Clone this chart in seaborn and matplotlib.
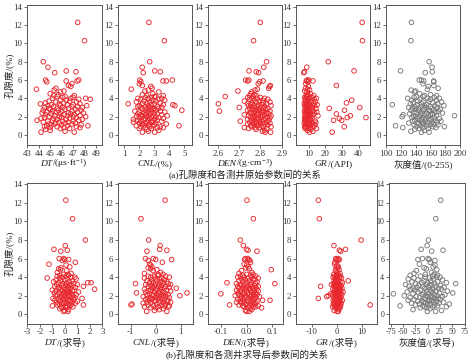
import numpy as np
import pandas as pd
import matplotlib
matplotlib.use("Agg")
import matplotlib.pyplot as plt
from matplotlib.offsetbox import TextArea, HPacker, AnnotationBbox
import seaborn as sns

# ---------------- data ----------------
POROSITY = [12.3, 10.3, 8.0, 7.4, 7.0, 6.9, 6.8, 6.0, 6.0, 5.9,
            5.9, 5.8, 5.6, 5.4, 5.3, 5.1, 5.0, 4.9, 4.8, 4.7,
            4.5, 4.4, 4.3, 4.3, 4.2,
            4.2, 4.1, 4.1, 4.0, 4.0, 4.0, 3.9, 3.9, 3.8, 3.8,
            3.7, 3.7, 3.6, 3.6, 3.5, 3.5, 3.4, 3.4, 3.4, 3.3, 3.3, 3.3, 3.2, 3.2, 3.2,
            3.1, 3.1, 3.1, 3.0, 3.0, 3.0, 2.9, 2.9, 2.9, 2.8,
            2.8, 2.8, 2.7, 2.7, 2.7, 2.6, 2.6, 2.6, 2.5, 2.5, 2.5, 2.4, 2.4, 2.4, 2.3,
            2.3, 2.3, 2.2, 2.2, 2.2, 2.1, 2.1, 2.1, 2.0, 2.0, 2.0, 2.0, 1.9, 1.9, 1.9,
            1.8, 1.8, 1.8, 1.7, 1.7,
            1.7, 1.6, 1.6, 1.6, 1.5, 1.5, 1.5, 1.4, 1.4, 1.4, 1.3, 1.3, 1.3, 1.2, 1.2,
            1.2, 1.1, 1.1, 1.1, 1.0, 1.0, 1.0, 0.9, 0.9, 0.9, 0.8, 0.8, 0.8, 0.7, 0.7,
            0.6, 0.5, 0.4, 0.3, 0.3]

DT = [47.4, 48.0, 44.4, 44.8, 46.4, 47.25, 45.4, 44.6, 47.5, 47.35,
      46.4, 44.7, 46.9, 46.6, 46.8, 45.5, 43.8, 45.35, 46.2, 45.9,
      45.0, 45.7, 45.3, 47.1, 46.3,
      45.6, 47.0, 46.1, 48.1, 46.8, 45.2, 48.5, 47.5, 46.4, 45.9,
      44.9, 46.7, 45.5, 47.3, 44.6, 46.2, 44.15, 45.8, 47.6, 45.1, 46.5, 47.0, 48.2, 44.8, 45.9,
      46.9, 45.3, 47.4, 44.5, 46.1, 47.8, 45.6, 46.6, 44.9, 47.2,
      45.0, 46.3, 47.7, 44.4, 45.7, 46.9, 45.2, 46.0, 47.4, 44.7, 45.5, 46.6, 47.9, 44.3, 45.9,
      46.8, 45.1, 47.1, 44.6, 46.2, 47.6, 45.4, 46.5, 44.9, 45.8, 47.0, 48.1, 44.5, 46.0, 47.3,
      45.3, 46.7, 44.2, 45.6, 47.8,
      46.4, 43.85, 45.2, 47.5, 44.8, 46.1, 47.0, 45.5, 46.6, 44.4, 45.8, 47.2, 46.3, 44.9, 45.4,
      46.9, 47.7, 45.1, 46.0, 48.3, 44.7, 46.5, 45.6, 47.3, 44.5, 46.2, 45.0, 47.6, 45.9, 46.7,
      44.6, 45.0, 46.3, 44.2, 47.1]

CNL = [2.64, 3.67, 2.69, 2.19, 3.03, 3.40, 2.26, 2.03, 4.2, 3.58,
       3.8, 2.1, 2.0, 2.2, 2.77, 2.85, 1.46, 2.6, 2.37, 3.3,
       2.9, 2.2, 3.6, 2.5, 3.1,
       3.0, 2.4, 2.8, 1.9, 3.5, 2.6, 3.3, 2.1, 3.7, 2.9,
       2.3, 3.1, 1.8, 2.7, 3.4, 2.5, 1.25, 3.0, 2.2, 4.24, 2.8, 3.6, 4.38, 2.0, 2.6,
       3.2, 2.4, 1.9, 3.5, 2.7, 2.1, 3.0, 2.5, 3.3, 2.8,
       2.2, 2.9, 4.84, 2.4, 3.1, 1.7, 2.6, 3.4, 2.0, 2.8, 3.7, 2.3, 2.5, 3.0, 1.9,
       2.7, 3.2, 2.1, 3.5, 2.4, 2.9, 2.6, 3.86, 2.2, 3.1, 1.8, 2.5, 3.3, 2.0, 2.8,
       2.4, 3.6, 2.7, 1.6, 3.0,
       2.3, 2.6, 3.2, 1.9, 2.8, 3.5, 2.1, 2.9, 1.6, 2.5, 3.1, 2.4, 2.0, 3.8, 2.7,
       2.2, 3.0, 2.6, 2.3, 4.65, 2.9, 1.8, 3.4, 2.1, 2.7, 3.2, 2.4, 3.6, 2.0, 2.8,
       2.5, 3.3, 2.6, 3.03, 2.2]

DEN = [2.800, 2.768, 2.829, 2.816, 2.747, 2.781, 2.792, 2.731, 2.746, 2.813,
       2.740, 2.797, 2.790, 2.847, 2.843, 2.839, 2.786, 2.775, 2.695, 2.760,
       2.755, 2.770, 2.750, 2.780, 2.765,
       2.635, 2.800, 2.741, 2.820, 2.760, 2.785, 2.835, 2.750, 2.810, 2.770,
       2.795, 2.725, 2.845, 2.780, 2.760, 2.815, 2.740, 2.603, 2.830, 2.790,
       2.755, 2.805, 2.770, 2.850, 2.745, 2.785, 2.820, 2.760, 2.701, 2.800,
       2.775, 2.835, 2.750, 2.815, 2.790,
       2.765, 2.825, 2.740, 2.808, 2.780, 2.608, 2.795, 2.845, 2.755, 2.815,
       2.770, 2.830, 2.785, 2.750, 2.805, 2.840, 2.760, 2.790, 2.725, 2.820,
       2.775, 2.850, 2.745, 2.800, 2.835, 2.765, 2.810, 2.780, 2.755, 2.845,
       2.790, 2.770, 2.825, 2.740, 2.805,
       2.785, 2.815, 2.760, 2.840, 2.706, 2.795, 2.775, 2.830, 2.750, 2.810,
       2.780, 2.845, 2.765, 2.800, 2.740, 2.820, 2.790, 2.770, 2.835, 2.755,
       2.805, 2.785, 2.850, 2.760, 2.815, 2.725, 2.795, 2.775, 2.830, 2.745,
       2.780, 2.820, 2.810, 2.823, 2.848]

GR = [42.1, 42.3, 21.7, 8.8, 37.2, 7.4, 7.0, 9.0, 10.0, 12.5,
      8.5, 9.5, 8.2, 26.6, 9.8, 8.0, 9.3, 10.5, 7.6, 8.9,
      11.0, 9.2, 13.0, 8.4, 10.2,
      9.0, 12.0, 7.5, 14.5, 8.3, 10.8, 9.6, 13.2, 35.8, 8.1,
      11.5, 7.8, 9.9, 14.0, 32.7, 8.6, 10.4, 12.8, 7.3, 9.1,
      15.0, 8.0, 11.2, 9.7, 13.5, 8.8, 10.1, 7.6, 40.7, 12.2,
      9.3, 22.3, 8.4, 14.3, 10.6,
      8.2, 11.8, 31.5, 9.4, 7.7, 12.6, 10.0, 8.9, 14.8, 9.2,
      7.4, 11.0, 8.5, 13.3, 26.6, 9.8, 7.9, 10.7, 12.4, 8.3,
      35.0, 9.5, 15.5, 8.0, 11.4, 7.6, 10.2, 44.4, 33.1, 9.0,
      28.4, 12.0, 8.7, 10.9, 7.5,
      9.6, 24.9, 29.8, 8.1, 13.9, 10.5, 7.8, 11.7, 9.1, 8.6,
      14.2, 10.3, 7.3, 12.3, 9.7, 8.2, 11.1, 13.6, 8.8, 10.0,
      7.7, 9.4, 31.3, 12.9, 8.4, 10.8, 7.6, 9.9, 14.6, 8.0,
      11.3, 9.2, 12.5, 24.1, 10.4]

GRAY = [134.6, 133.8, 158.2, 162.1, 119.8, 162.5, 153.0, 145.0, 148.0, 151.0,
        164.3, 164.3, 150.0, 164.5, 157.0, 170.3, 156.0, 134.2, 140.0, 138.6,
        145.5, 160.0, 168.0, 152.0, 141.0,
        150, 165, 138, 129.4, 172, 156, 146, 160, 135, 168,
        143, 158, 175, 150, 137, 163, 148, 170, 133, 108.9,
        155, 142, 166, 152, 178, 139, 160, 147, 131, 169,
        154, 144, 162, 136, 173,
        151, 140, 164, 157, 134, 171, 145, 159, 138, 167,
        149, 176, 141, 155, 163, 132, 147, 123.3, 160, 152,
        137, 192.2, 168, 145, 122.0, 157, 140, 165, 150, 135,
        172, 154, 143, 161, 148,
        158, 139, 166, 146, 153, 174, 136, 162, 149, 169,
        142, 156, 131, 164, 151, 144, 170, 138, 160, 113.3,
        147, 155, 141, 178.7, 163, 150, 122.9, 167, 145, 157,
        139, 152, 133.8, 158.2, 148]

DT_D = [0.08, 0.62, 1.65, 0.03, -0.87, 0.2, -0.32, -0.1, -0.45, 0.3,
        0.0, -0.2, 0.84, -1.27, 0.1, 0.4, -0.3, -0.5, -0.35, 0.15,
        -0.6, 0.5, -0.1, 0.25, -0.4,
        0.3, -0.6, 0.1, 0.8, -0.2, 0.5, -1.41, -0.4, 0.2, 0.9,
        -0.7, 0.0, 0.6, -0.3, 0.35, -0.9, 1.84, 2.1, -0.5, 0.15,
        0.7, -0.15, 1.0, -0.65, 0.4, -0.25, 0.05, 0.55, -0.8, 1.49,
        0.25, -0.45, 0.85, -0.1, 0.3,
        -0.55, 0.45, 0.1, 2.38, -0.35, 0.75, -1.0, 0.2, -0.2, 0.6,
        -0.7, 0.35, 0.0, 1.1, -0.45, 0.15, -0.85, 0.5, -0.1, 0.3,
        -0.6, 0.9, -0.25, 0.4, 0.05, -0.75, 0.65, -0.4, 0.2, -0.05,
        0.8, -0.3, 0.55, -0.95, 1.38,
        0.1, -0.5, 0.7, -0.15, 0.35, -0.8, 0.25, 1.0, -0.35, 0.45,
        0.0, -0.65, 0.6, 0.15, -0.25, 0.85, -0.45, 0.3, -0.1, 0.5,
        1.49, -0.6, -1.0, 0.2, 0.4, -0.3, 0.65, 0.05, -0.2, 0.1,
        -0.4, 0.3, 0.0, 0.24, -0.1]

CNL_D = [0.38, -0.59, -0.28, 0.18, 0.16, 0.45, -0.35, -0.41, -0.1, 0.0,
         0.64, -0.3, 0.27, -0.25, -0.2, -0.15, -0.3, -0.2, 0.05, -0.1,
         0.2, -0.45, 0.1, 0.3, -0.05,
         0.1, -0.3, 0.4, -0.05, 0.55, -0.2, 0.25, -0.45, 0.15, 0.0,
         0.35, -0.15, 0.05, -0.35, 0.45, 0.2, -0.1, 0.3, -0.25, -0.81,
         0.5, 0.0, -0.4, 0.15, 0.6, -0.2, 0.25, -0.05, 0.4, -0.3,
         0.1, 0.55, -0.15, 0.2, 0.83,
         -0.1, 0.35, -0.45, 0.05, 0.25, -0.2, 0.45, 0.0, -0.3, 0.15,
         0.6, -0.05, 0.3, -0.4, -0.77, 1.26, 0.1, -0.25, 0.4, 0.2,
         -0.15, 0.5, -0.35, 0.05, 0.97, -0.1, 0.3, -0.5, 0.15, 0.4,
         -0.2, 0.0, 0.55, -0.3, 0.25,
         0.1, -0.4, 0.35, -0.15, 0.5, 0.0, -0.25, 0.2, 0.45, -0.05,
         0.3, -0.35, 0.6, -0.5, 0.15, -0.2, -0.95, 0.4, 0.05, -0.3,
         -0.99, 0.25, 0.55, -0.1, 0.35, -0.45, 0.1, 0.5, -0.2, 0.0,
         0.3, 0.15, -0.05, -0.36, 0.45]

DEN_D = [0.001, 0.026, -0.025, -0.013, -0.001, 0.005, 0.04, -0.005, 0.003, 0.008,
         -0.008, 0.012, 0.015, -0.01, 0.0, 0.006, -0.004, 0.01, 0.096, -0.02,
         0.02, -0.03, 0.0, 0.025, -0.015,
         0.015, -0.025, 0.035, -0.01, 0.02, -0.035, 0.005, 0.045, -0.02, 0.03,
         -0.005, 0.025, -0.03, 0.01, -0.015, 0.04, -0.077, 0.0, 0.02, -0.04,
         0.035, 0.11, -0.01, 0.015, -0.025, 0.03, 0.005, -0.02, 0.045, -0.035,
         0.02, 0.0, -0.015, 0.035, 0.01,
         -0.03, 0.025, -0.005, 0.04, 0.01, -0.02, 0.03, -0.04, 0.015, 0.0,
         0.045, -0.025, 0.02, -0.01, 0.035, -0.035, 0.005, -0.101, 0.025, -0.015,
         0.04, 0.01, -0.03, 0.03, -0.005, 0.02, -0.045, 0.015, 0.05, -0.02,
         0.0, 0.035, -0.01, 0.025, -0.025,
         0.01, -0.015, 0.03, -0.035, 0.062, 0.091, 0.02, -0.025, 0.04, 0.005,
         -0.01, 0.025, -0.04, 0.015, 0.035, -0.02, 0.0, 0.03, -0.005, -0.067,
         0.02, -0.03, 0.045, 0.01, -0.015, 0.025, 0.035, -0.01, 0.058, 0.005,
         0.015, 0.02, -0.005, 0.01, 0.0]

GR_D = [-7.4, -7.0, 9.6, -1.2, 3.4, 0.95, 1.5, -0.5, 0.5, 1.0,
        -0.2, 0.3, -0.8, -1.0, 0.0, 0.6, 0.2, -0.4, 0.8, -0.6,
        0.1, 1.2, -1.3, 0.4, -0.2,
        0.5, -0.8, 1.3, -0.3, 0.9, -1.5, 0.2, 1.8, -0.6, 0.0,
        0.7, -1.1, 4.5, 0.3, -0.4, 1.5, -0.9, 0.1, 2.2, -0.2,
        0.6, -1.4, 1.0, -2.2, 0.4, -0.7, 1.7, 0.0, -1.2, -6.5,
        0.8, -0.5, 1.2, -0.1, 2.0,
        -0.3, 0.9, -1.6, 0.4, 1.4, -0.8, 0.2, -0.1, 1.1, -1.0,
        0.6, 2.4, -0.4, 0.0, 1.6, -1.3, 0.7, -0.6, -2.5, 0.3,
        1.9, -0.2, -1.8, 0.5, 1.2, -3.4, -0.7, 0.8, -4.1, 0.1,
        1.5, -1.1, 0.4, -7.4, -0.3,
        0.6, -0.9, 1.3, 0.0, -1.5, 0.9, 2.1, -0.5, 0.3, 1.0,
        -1.2, 0.5, -0.2, 1.7, -0.8, 0.2, 1.1, -1.4, 0.7, -0.4,
        13.2, 0.4, -1.0, 1.4, 0.0, -0.6, 0.9, -1.7, 0.3, 1.2,
        -0.3, 0.8, -1.1, 0.1, 0.5]

GRAY_D = [26.5, 16.3, 1.3, -1.3, -13.5, 31.2, 8.0, -10.7, 0.6, 3.0,
          -20.0, 14.7, 5.0, -17.0, 14.7, 11.0, -7.5, -3.0, 18.5, -23.0,
          7.5, -28.0, 13.0, -5.0, 20.0,
          -36.0, 10.0, -15.0, 25.0, -5.0, 18.0, -28.0, 3.0, -40.0, 12.0,
          -20.0, 30.0, -8.0, 6.0, -32.0, 20.0, -12.0, 38.0, 0.0, 57.0,
          -25.0, 14.0, -45.0, 8.0, -3.0, 26.0, -18.0, 4.0, -38.0, 16.0,
          -10.0, 33.0, -22.0, 2.0, -30.0,
          22.0, -6.0, 11.0, -35.0, 28.0, -15.0, 5.0, -26.0, 40.0, -2.0,
          17.0, -42.0, 9.0, -20.0, 51.0, -8.0, 24.0, -70.0, 1.0, -30.0,
          13.0, -11.0, 35.0, -4.0, 19.0, -48.0, 7.0, -24.0, 30.0, 0.0,
          -16.0, 10.0, -36.0, 21.0, -7.0,
          15.0, -28.0, 4.0, 26.0, -12.0, -40.0, 8.0, 18.0, -20.0, 2.0,
          32.0, -9.0, 12.0, -33.0, 23.0, -4.0, 44.0, -17.0, 6.0, 14.0,
          -25.0, 0.0, -56.5, 20.0, -10.0, 38.0, -6.0, 10.0, -2.0, -15.0,
          5.0, -30.0, 28.0, -0.7, 16.0]

# x-axis labels: (italic part, upright part)
TOP_LABELS = [("DT", "/(μs·ft$^{-1}$)"), ("CNL", "/(%)"), ("DEN", "/(g·cm$^{-3}$)"),
              ("GR", "/(API)"), ("", "灰度值/(0-255)")]
BOT_LABELS = [("DT", "/(求导)"), ("CNL", "/(求导)"), ("DEN", "/(求导)"),
              ("GR", "/(求导)"), ("", "灰度值/(求导)")]
Y_LABEL = "孔隙度/(%)"
CAPTION_A = "(a)孔隙度和各测井原始参数间的关系"
CAPTION_B = "(b)孔隙度和各测井求导后参数间的关系"

TOP_TICKS = [[43, 44, 45, 46, 47, 48, 49], [1, 2, 3, 4, 5], [2.6, 2.7, 2.8, 2.9],
             [10, 20, 30, 40], [100, 120, 140, 160, 180, 200]]
TOP_TICKLABELS = [None, None, ["2.6", "2.7", "2.8", "2.9"], None, None]
BOT_TICKS = [[-3, -2, -1, 0, 1, 2, 3], [-1, 0, 1], [-0.1, 0.0, 0.1],
             [-10, 0, 10], [-75, -50, -25, 0, 25, 50, 75]]
BOT_TICKLABELS = [None, None, ["-0.1", "0.0", "0.1"], None, None]
Y_TICKS = [0, 2, 4, 6, 8, 10, 12, 14]

for arr in [DT, CNL, DEN, GR, GRAY, DT_D, CNL_D, DEN_D, GR_D, GRAY_D]:
    assert len(arr) == len(POROSITY), len(arr)

# ---------------- style ----------------
sns.set_style("ticks")
FAMILY = ['Liberation Serif', 'Noto Sans CJK SC', 'DejaVu Sans']
plt.rcParams['font.family'] = FAMILY
plt.rcParams['mathtext.fontset'] = 'custom'
plt.rcParams['mathtext.it'] = 'Liberation Serif:italic'
plt.rcParams['mathtext.rm'] = 'Liberation Serif'
plt.rcParams['axes.unicode_minus'] = False

W, H = 472, 361
fig = plt.figure(figsize=(W / 100, H / 100), dpi=100)

def box(x0, x1, ytop, ybot):
    return [x0 / W, 1 - ybot / H, (x1 - x0) / W, (ybot - ytop) / H]

top_x = [(26.7, 101.7), (117.7, 191.7), (207.7, 282.3), (296.3, 370.3), (385.7, 460.3)]
bot_x = [(26.7, 102.3), (118.3, 193.0), (208.3, 283.3), (295.7, 376.7), (389.0, 465.0)]
top_xlim = [(42.95, 49.5), (0.55, 5.5), (2.553, 2.903), (2.5, 47), (100, 200)]
bot_xlim = [(-3.05, 3.0), (-1.5, 1.5), (-0.15, 0.143), (-16.4, 15.8), (-79, 76)]

top_data = [DT, CNL, DEN, GR, GRAY]
bot_data = [DT_D, CNL_D, DEN_D, GR_D, GRAY_D]
RED = '#e8282e'
GREY = '#7a7a7a'
SPINE = '#555555'
TXT = '#222222'
LABEL_FS = 6.8

def xlabel_box(parts, xc, yc):
    ital, rest = parts
    children = []
    if ital:
        children.append(TextArea(ital, textprops=dict(fontsize=LABEL_FS, style='italic',
                                                      family=FAMILY, color=TXT)))
    children.append(TextArea(rest, textprops=dict(fontsize=LABEL_FS, family=FAMILY, color=TXT)))
    pack = HPacker(children=children, align='baseline', pad=0, sep=0)
    ab = AnnotationBbox(pack, (xc / W, 1 - yc / H), xycoords='figure fraction',
                        frameon=False, box_alignment=(0.5, 0.5), pad=0)
    fig.add_artist(ab)

def style_ax(ax, xlim, ylim, xticks, xticklabels, tick_fs=6.3):
    ax.set_xlim(*xlim)
    ax.set_ylim(*ylim)
    ax.set_xticks(xticks)
    if xticklabels is not None:
        ax.set_xticklabels(xticklabels)
    ax.set_yticks(Y_TICKS)
    ax.tick_params(direction='out', length=2.5, width=0.6, colors=SPINE,
                   labelsize=tick_fs, pad=1.0, labelcolor='#333333')
    for sp in ax.spines.values():
        sp.set_visible(True)
        sp.set_color(SPINE)
        sp.set_linewidth(0.7)
    ax.set_xlabel("")
    ax.set_ylabel("")

for i in range(5):
    ax = fig.add_axes(box(top_x[i][0], top_x[i][1], 5, 145))
    df = pd.DataFrame({"x": top_data[i], "y": POROSITY})
    col = GREY if i == 4 else RED
    sns.scatterplot(data=df, x="x", y="y", ax=ax, s=11, facecolor='none',
                    edgecolor=col, linewidth=0.65, marker='o')
    style_ax(ax, top_xlim[i], (-1.1, 14.2), TOP_TICKS[i], TOP_TICKLABELS[i])
    xlabel_box(TOP_LABELS[i], (top_x[i][0] + top_x[i][1]) / 2, 164.0)

for i in range(5):
    ax = fig.add_axes(box(bot_x[i][0], bot_x[i][1], 183, 323.5))
    df = pd.DataFrame({"x": bot_data[i], "y": POROSITY})
    col = GREY if i == 4 else RED
    sns.scatterplot(data=df, x="x", y="y", ax=ax, s=11, facecolor='none',
                    edgecolor=col, linewidth=0.65, marker='o')
    style_ax(ax, bot_xlim[i], (-1.0, 14.15), BOT_TICKS[i], BOT_TICKLABELS[i],
             tick_fs=(5.7 if i == 4 else 6.3))
    xlabel_box(BOT_LABELS[i], (bot_x[i][0] + bot_x[i][1]) / 2, 342.5)

# y labels
fig.text(9 / W, 1 - 75 / H, Y_LABEL, rotation=90, ha='center', va='center',
         fontsize=LABEL_FS, color=TXT)
fig.text(9 / W, 1 - 253 / H, Y_LABEL, rotation=90, ha='center', va='center',
         fontsize=LABEL_FS, color=TXT)

fig.text(245 / W, 1 - 175.5 / H, CAPTION_A, ha='center', va='center', fontsize=LABEL_FS, color=TXT)
fig.text(247 / W, 1 - 355 / H, CAPTION_B, ha='center', va='center', fontsize=LABEL_FS, color=TXT)

fig.savefig("out.png", dpi=100)
